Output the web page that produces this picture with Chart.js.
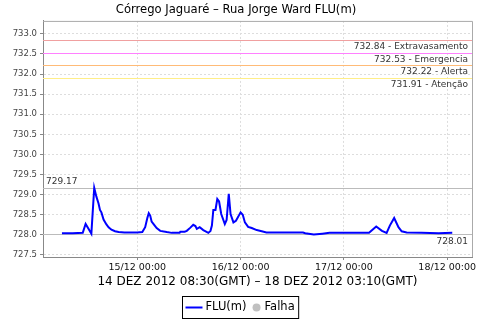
<!DOCTYPE html>
<html><head><meta charset="utf-8">
<script src="https://cdn.jsdelivr.net/npm/chart.js@4"></script>
<style>html,body{margin:0;padding:0;background:#fff}</style>
</head><body>
<div style="width:480px;height:320px"><canvas id="c" width="480" height="320"></canvas></div>
<script>
const times = ["14/12 06:30","14/12 09:00","14/12 11:20","14/12 12:00","14/12 12:40","14/12 13:20","14/12 14:00","14/12 14:30","14/12 15:00","14/12 15:20","14/12 15:40","14/12 16:10","14/12 16:50","14/12 17:20","14/12 18:00","14/12 18:50","14/12 19:40","14/12 21:00","15/12 00:00","15/12 01:10","15/12 01:50","15/12 02:20","15/12 02:40","15/12 03:00","15/12 03:20","15/12 03:50","15/12 04:30","15/12 05:20","15/12 06:50","15/12 08:00","15/12 09:50","15/12 10:00","15/12 11:00","15/12 11:30","15/12 12:20","15/12 13:00","15/12 13:30","15/12 13:50","15/12 14:30","15/12 15:20","15/12 16:30","15/12 17:00","15/12 17:20","15/12 17:40","15/12 18:10","15/12 18:35","15/12 19:00","15/12 19:30","15/12 20:20","15/12 20:45","15/12 21:15","15/12 21:40","15/12 22:20","15/12 22:55","16/12 00:00","16/12 00:30","16/12 01:00","16/12 01:45","16/12 02:35","16/12 03:45","16/12 04:55","16/12 06:00","16/12 10:00","16/12 14:30","16/12 15:00","16/12 17:00","16/12 19:00","16/12 20:40","16/12 23:00","17/12 04:00","17/12 05:50","17/12 07:30","17/12 08:50","17/12 09:55","17/12 10:40","17/12 11:40","17/12 12:40","17/12 13:25","17/12 14:35","17/12 18:00","17/12 22:00","18/12 01:10"];
const flu = [728.04,728.04,728.05,728.27,728.15,728.03,729.17,728.95,728.78,728.62,728.56,728.38,728.26,728.19,728.13,728.09,728.07,728.06,728.06,728.07,728.19,728.42,728.54,728.48,728.33,728.26,728.17,728.10,728.07,728.05,728.05,728.08,728.08,728.10,728.18,728.25,728.22,728.15,728.19,728.12,728.05,728.10,728.23,728.62,728.62,728.89,728.83,728.52,728.27,728.37,729.02,728.52,728.31,728.35,728.56,728.50,728.31,728.20,728.17,728.12,728.09,728.06,728.06,728.06,728.04,728.01,728.03,728.05,728.05,728.05,728.05,728.21,728.10,728.05,728.23,728.42,728.19,728.09,728.06,728.05,728.04,728.05];
const yTicks = [727.5,728.0,728.5,729.0,729.5,730.0,730.5,731.0,731.5,732.0,732.5,733.0];
const xTickHours = [24,48,72,96];
const xTickLabels = ["15/12 00:00","16/12 00:00","17/12 00:00","18/12 00:00"];
const limitValues = [732.84,732.53,732.22,731.91];
const limitNames = ["Extravasamento","Emergencia","Alerta","Atenção"];
const limitColors = ["#f0a0a0","#ff80ff","#ffbb77","#ffee88"];
const titleText = "Córrego Jaguaré – Rua Jorge Ward FLU(m)";
const xTitleText = "14 DEZ 2012 08:30(GMT) – 18 DEZ 2012 03:10(GMT)";
const legendLabels = ["FLU(m)","Falha"];

function toHours(s){
  const [d,t]=s.split(' ');
  const day=+d.split('/')[0];
  const [hh,mm]=t.split(':').map(Number);
  return (day-14)*24+hh+mm/60;
}
const points = times.map((t,i)=>({x:toHours(t),y:flu[i]}));
const FONT = "DejaVu Sans";

const refPlugin = {
  id:'refLines',
  beforeDatasetsDraw(chart){
    const {ctx, chartArea:a, scales:{x,y}} = chart;
    ctx.save();
    ctx.font = "9px " + FONT;
    ctx.fillStyle = "#333";
    limitValues.forEach((v,i)=>{
      const py = Math.round(y.getPixelForValue(v))+0.5;
      ctx.strokeStyle = limitColors[i]; ctx.lineWidth=1;
      ctx.beginPath(); ctx.moveTo(a.left,py); ctx.lineTo(a.right,py); ctx.stroke();
      ctx.textAlign='right'; ctx.textBaseline='top';
      ctx.fillText(v.toFixed(2)+" - "+limitNames[i], a.right-4, py+2);
    });
    const mx = Math.max(...flu), mn = Math.min(...flu);
    ctx.strokeStyle="#bbbbbb";
    [mx,mn].forEach((v,i)=>{
      const py = Math.round(y.getPixelForValue(v))+0.5;
      ctx.beginPath(); ctx.moveTo(a.left,py); ctx.lineTo(a.right,py); ctx.stroke();
      if(i===0){ctx.textAlign='left';ctx.textBaseline='bottom';ctx.fillText(v.toFixed(2),a.left+3,py-2);}
      else {ctx.textAlign='right';ctx.textBaseline='top';ctx.fillText(v.toFixed(2),a.right-4,py+3);}
    });
    ctx.strokeStyle="#aaaaaa";
    ctx.beginPath(); ctx.moveTo(a.left,a.top+0.5); ctx.lineTo(a.right+0.5,a.top+0.5); ctx.lineTo(a.right+0.5,a.bottom); ctx.stroke();
    ctx.restore();
  },
  afterDraw(chart){
    const ctx = chart.ctx;
    ctx.save();
    ctx.font = "11.5px " + FONT;
    const w0 = ctx.measureText(legendLabels[0]).width, w1 = ctx.measureText(legendLabels[1]).width;
    const total = 3+17+3+w0+6+8+4+w1+4;
    const x0 = Math.round(240.5 - total/2)+0.5, y0 = 296.5, h = 22;
    ctx.strokeStyle="#000"; ctx.lineWidth=1;
    ctx.strokeRect(x0,y0,total,h);
    const cy = y0+h/2;
    let cx = x0+3;
    ctx.strokeStyle="#0000ff"; ctx.lineWidth=2;
    ctx.beginPath(); ctx.moveTo(cx,cy); ctx.lineTo(cx+17,cy); ctx.stroke();
    cx += 20;
    ctx.fillStyle="#000"; ctx.textAlign='left'; ctx.textBaseline='middle';
    ctx.fillText(legendLabels[0],cx,cy);
    cx += w0+6;
    ctx.fillStyle="#c0c0c0"; ctx.beginPath(); ctx.arc(cx+4,cy,4,0,Math.PI*2); ctx.fill();
    cx += 12;
    ctx.fillStyle="#000"; ctx.fillText(legendLabels[1],cx,cy);
    ctx.restore();
  }
};

new Chart(document.getElementById('c'),{
  type:'line',
  data:{datasets:[{label:legendLabels[0],data:points,borderColor:'#0000ff',borderWidth:2,pointRadius:0,tension:0,fill:false}]},
  options:{
    responsive:false,animation:false,devicePixelRatio:1,
    layout:{padding:{left:0,right:8,top:0,bottom:28}},
    plugins:{
      legend:{display:false},tooltip:{enabled:false},
      title:{display:true,text:titleText,color:'#000',font:{family:FONT,size:11.6,weight:'normal'},padding:{top:3,bottom:4}}
    },
    scales:{
      x:{type:'linear',min:2.1,max:101.75,
        afterBuildTicks:s=>{s.ticks=xTickHours.map(v=>({value:v}));},
        afterFit:s=>{s.height=35;},
        ticks:{autoSkip:false,maxRotation:0,color:'#111',padding:2,font:{family:FONT,size:9.5},
          callback:(v)=>{const i=xTickHours.indexOf(v);return i>=0?xTickLabels[i]:'';}},
        grid:{color:'#dddddd',tickLength:3,tickColor:'#888888',tickBorderDash:[4,0]},
        border:{display:true,color:'#888888',width:1,dash:[2,2]},
        title:{display:true,text:xTitleText,color:'#000',font:{family:FONT,size:12},padding:{top:0,bottom:3}}
      },
      y:{type:'linear',min:727.45,max:733.32,
        afterBuildTicks:s=>{s.ticks=yTicks.map(v=>({value:v}));},
        afterFit:s=>{s.width=43;},
        ticks:{color:'#444',padding:3,font:{family:FONT,size:8.5},callback:v=>v.toFixed(1)},
        grid:{color:'#dddddd',tickLength:3,tickColor:'#888888',tickBorderDash:[4,0]},
        border:{display:true,color:'#888888',width:1,dash:[2,2]}
      }
    }
  },
  plugins:[refPlugin]
});
</script>
</body></html>
